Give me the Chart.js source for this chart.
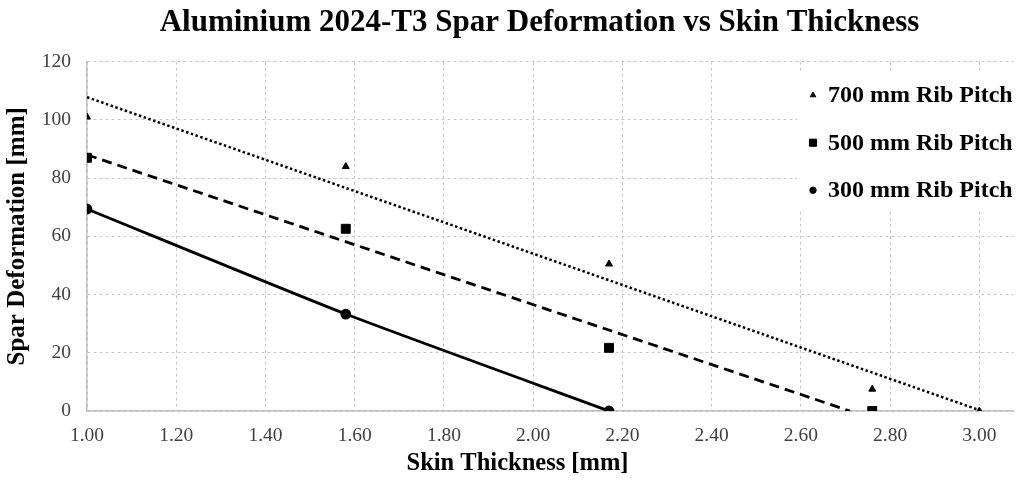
<!DOCTYPE html>
<html>
<head>
<meta charset="utf-8">
<title>Aluminium 2024-T3 Spar Deformation vs Skin Thickness</title>
<script src="https://cdn.jsdelivr.net/npm/chart.js@4.4.1/dist/chart.umd.min.js"></script>
<style>
  html, body { margin: 0; padding: 0; background: #fff; }
  #wrap { width: 1021px; height: 483px; }
</style>
</head>
<body>
<div id="wrap"><canvas id="chart" width="1021" height="483"></canvas></div>
<script>
// measured points
const thick700 = [1.00, 1.58, 2.17, 2.76, 3.00];
const deform700 = [101, 84, 50.5, 7.5, 0];
const thick500 = [1.00, 1.58, 2.17, 2.76];
const deform500 = [87, 62.6, 21.7, 0];
const thick300 = [1.00, 1.58, 2.17];
const deform300 = [69.4, 33.3, 0];

// trend line end points
const trend700X = [1.00, 3.00];
const trend700Y = [107.8, 0.3];
const trend500X = [1.00, 2.71];
const trend500Y = [88, 0];

const xTicks = [1.00, 1.20, 1.40, 1.60, 1.80, 2.00, 2.20, 2.40, 2.60, 2.80, 3.00];
const seriesNames = ['700 mm Rib Pitch', '500 mm Rib Pitch', '300 mm Rib Pitch'];
const seriesMarkers = ['triangle', 'rect', 'circle'];
const markerSizes = [4, 6.3, 4];
const xTitle = 'Skin Thickness [mm]';

const SERIF = "'Liberation Serif', 'Times New Roman', serif";
const TICK_COLOR = '#404040';
const GRID_COLOR = '#c8c8c8';

function pts(xs, ys) {
  return xs.map((x, i) => ({ x, y: ys[i] }));
}

// white legend box laid over the top right of the plot
const boxLegend = {
  id: 'boxLegend',
  afterDraw(chart) {
    const { ctx, chartArea } = chart;
    const left = chart.width - 224;
    const top = chartArea.top + 10;
    ctx.save();
    ctx.fillStyle = '#fff';
    ctx.fillRect(left, top, chart.width - left, 138);
    ctx.font = 'bold 24px ' + SERIF;
    ctx.textBaseline = 'middle';
    ctx.textAlign = 'left';
    seriesNames.forEach((name, i) => {
      const y = top + 23.5 + i * 47.5;
      const opts = { pointStyle: seriesMarkers[i], radius: markerSizes[i] * 0.8, rotation: 0, borderWidth: 1 };
      ctx.fillStyle = '#000';
      ctx.strokeStyle = '#000';
      ctx.lineWidth = 1;
      Chart.helpers.drawPoint(ctx, opts, left + 16, y);
      ctx.fillStyle = '#000';
      ctx.fillText(name, left + 31, y + 1);
    });

    // x axis title, centred a bit left of the plot centre like the original
    ctx.font = 'bold 24.5px ' + SERIF;
    ctx.textAlign = 'center';
    ctx.textBaseline = 'middle';
    ctx.fillText(xTitle, chart.width / 2 + 7, 464);
    ctx.restore();
  }
};

// push the title a little right, as in the original
const titleShift = {
  id: 'titleShift',
  afterLayout(chart) {
    if (chart.titleBlock) {
      chart.titleBlock.left += 59;
    }
  }
};

new Chart(document.getElementById('chart'), {
  type: 'scatter',
  data: {
    datasets: [
      {
        label: seriesNames[0],
        data: pts(thick700, deform700),
        pointStyle: seriesMarkers[0],
        pointRadius: markerSizes[0],
        backgroundColor: '#000',
        borderColor: '#000',
        borderWidth: 1,
        showLine: false
      },
      {
        label: seriesNames[1],
        data: pts(thick500, deform500),
        pointStyle: seriesMarkers[1],
        pointRadius: markerSizes[1],
        backgroundColor: '#000',
        borderColor: '#000',
        borderWidth: 1,
        showLine: false
      },
      {
        label: seriesNames[2],
        data: pts(thick300, deform300),
        pointStyle: seriesMarkers[2],
        pointRadius: markerSizes[2],
        backgroundColor: '#000',
        borderColor: '#000',
        borderWidth: 2.8,
        showLine: true,
        tension: 0.2
      },
      {
        label: 'trend 700',
        data: pts(trend700X, trend700Y),
        showLine: true,
        pointRadius: 0,
        borderColor: '#000',
        borderWidth: 2.5,
        borderDash: [2.5, 2.5]
      },
      {
        label: 'trend 500',
        data: pts(trend500X, trend500Y),
        showLine: true,
        pointRadius: 0,
        borderColor: '#000',
        borderWidth: 2.8,
        borderDash: [10, 6]
      }
    ]
  },
  options: {
    responsive: false,
    animation: false,
    devicePixelRatio: 1,
    layout: { padding: { left: 0, right: 1, top: 0, bottom: 0 } },
    plugins: {
      legend: { display: false },
      tooltip: { enabled: false },
      title: {
        display: true,
        text: 'Aluminium 2024-T3 Spar Deformation vs Skin Thickness',
        color: '#000',
        font: { family: SERIF, size: 31, weight: 'bold' },
        padding: { top: 4, bottom: 20.5 }
      }
    },
    scales: {
      x: {
        type: 'linear',
        min: 1.0,
        max: 3.077,
        afterBuildTicks(scale) {
          scale.ticks = xTicks.map(v => ({ value: v }));
        },
        afterFit(scale) { scale.height = 72; },
        grid: { color: GRID_COLOR, drawTicks: false },
        border: { display: true, color: '#bfbfbf', width: 1.5, dash: [3, 3] },
        ticks: {
          color: TICK_COLOR,
          padding: 13,
          font: { family: SERIF, size: 19.5 },
          callback: v => Number(v).toFixed(2)
        },
        title: { display: false }
      },
      y: {
        min: 0,
        max: 120,
        afterFit(scale) { scale.width = 87; },
        grid: { color: GRID_COLOR, drawTicks: false },
        border: { display: true, color: '#bfbfbf', width: 1.5, dash: [3, 3] },
        ticks: {
          stepSize: 20,
          color: TICK_COLOR,
          padding: 16,
          font: { family: SERIF, size: 19.5 }
        },
        title: {
          display: true,
          text: 'Spar Deformation [mm]',
          color: '#000',
          font: { family: SERIF, size: 25, weight: 'bold' },
          padding: { top: 3, bottom: 0 }
        }
      }
    }
  },
  plugins: [titleShift, boxLegend]
});
</script>
</body>
</html>
